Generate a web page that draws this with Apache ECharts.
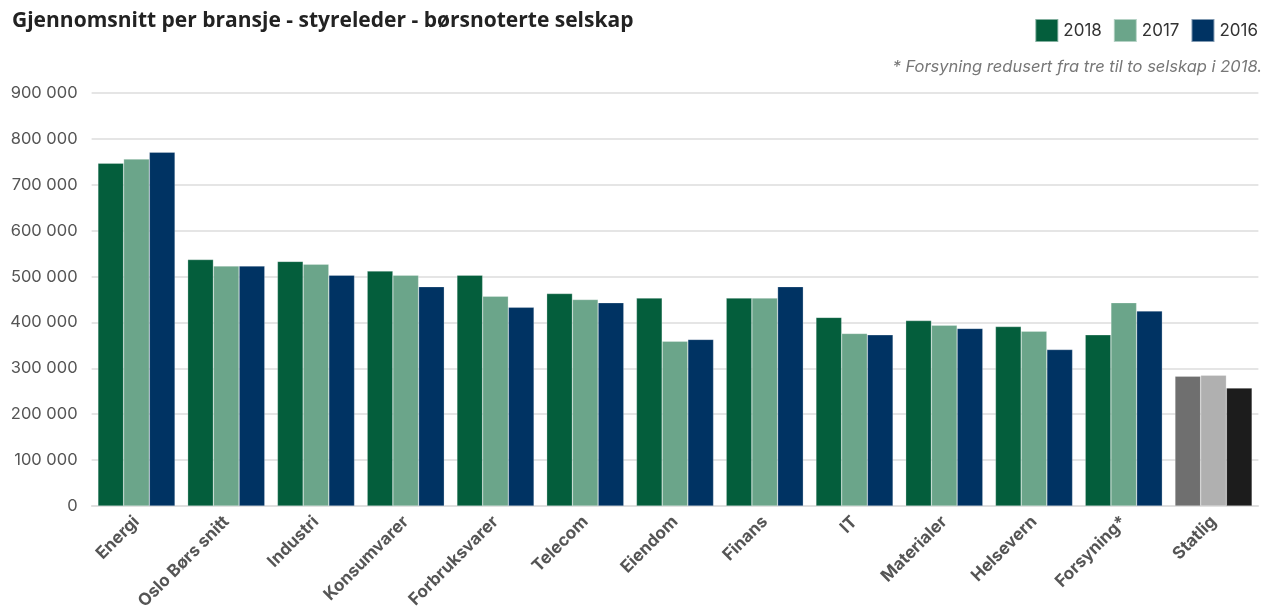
<!DOCTYPE html>
<html>
<head>
<meta charset="utf-8">
<script src="https://cdn.jsdelivr.net/npm/echarts@6/dist/echarts.min.js"></script>
<style>
html,body{margin:0;padding:0;background:#fff;}
#chart{width:1265px;height:613px;}
</style>
</head>
<body>
<div id="chart"></div>
<script>
const categories = ['Energi','Oslo Børs snitt','Industri','Konsumvarer','Forbruksvarer','Telecom','Eiendom','Finans','IT','Materialer','Helsevern','Forsyning*','Statlig'];
const values2018 = [747000,537000,533000,512000,503000,463000,453000,453000,411000,404000,391000,373000,283000];
const values2017 = [756000,523000,527000,503000,457000,450000,359000,453000,376000,394000,381000,443000,285000];
const values2016 = [771000,523000,503000,478000,433000,443000,363000,478000,373000,387000,341000,425000,257000];
const seriesNames = ['2018','2017','2016'];
const seriesColors = ['#045e3c','#6ba58a','#003363'];
const statligColors = ['#6f6f6f','#b0b0b0','#1c1c1c'];
const yTicks = [0,100000,200000,300000,400000,500000,600000,700000,800000,900000];
const titleText = 'Gjennomsnitt per bransje - styreleder - børsnoterte selskap';
const noteText = '* Forsyning redusert fra tre til to selskap i 2018.';

const allValues = [values2018, values2017, values2016];
function buildData(vals, idx) {
  return vals.map((v, i) => i === categories.length - 1
    ? { value: v, itemStyle: { color: statligColors[idx] } }
    : v);
}

const chart = echarts.init(document.getElementById('chart'), null, { renderer: 'canvas' });
chart.setOption({
  animation: false,
  backgroundColor: '#fff',
  title: [
    { text: titleText, left: 12, top: 11, padding: 0,
      textStyle: { fontFamily: 'Open Sans', fontWeight: 'bold', fontSize: 21, color: '#222' } },
    { text: noteText, right: 3, top: 59, padding: 0,
      textStyle: { fontFamily: 'Inter', fontStyle: 'italic', fontWeight: 'normal', fontSize: 16.5, color: '#777' } }
  ],
  legend: {
    right: 2, top: 13, itemWidth: 23, itemHeight: 23, itemGap: 11, icon: 'rect',
    textStyle: { fontFamily: 'Inter', fontSize: 17, color: '#333' },
    data: seriesNames
  },
  grid: { left: 91.6, right: 6.6, top: 93, bottom: 107, containLabel: false },
  xAxis: {
    type: 'category',
    data: categories,
    axisLine: { lineStyle: { color: '#dddddd', width: 1.5 } },
    axisTick: { show: false },
    axisLabel: { interval: 0, rotate: 45, margin: 13, fontFamily: 'Inter', fontWeight: 'bold', fontSize: 17, color: '#555' }
  },
  yAxis: {
    type: 'value',
    min: yTicks[0], max: yTicks[yTicks.length - 1], interval: yTicks[1] - yTicks[0],
    axisLine: { show: false },
    axisTick: { show: false },
    splitLine: { lineStyle: { color: '#dddddd', width: 1.5 } },
    axisLabel: {
      margin: 14, fontFamily: 'Inter', fontSize: 16.5, color: '#555',
      formatter: v => String(v).replace(/\B(?=(\d{3})+(?!\d))/g, ' ')
    }
  },
  series: allValues.map((vals, idx) => ({
    name: seriesNames[idx],
    type: 'bar',
    data: buildData(vals, idx),
    barWidth: 25.7,
    barGap: '0%',
    itemStyle: { color: seriesColors[idx], borderColor: 'rgba(255,255,255,0.5)', borderWidth: 0.5 }
  }))
});
</script>
</body>
</html>
